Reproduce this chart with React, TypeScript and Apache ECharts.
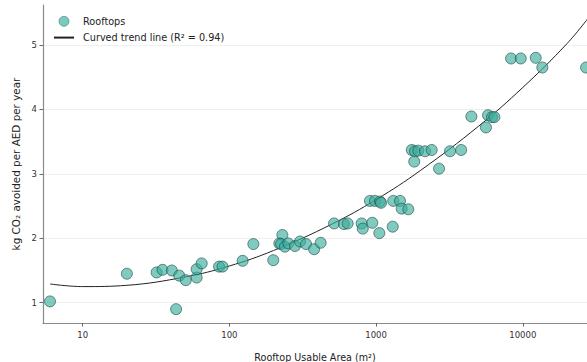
import React, { useEffect, useRef } from "react";
import * as echarts from "echarts";

// Rooftop usable area (m²) and kg CO2 avoided per AED per year
const areaM2 = [
  5.98, 20, 31.9, 35, 40.5, 45.5, 43.3, 50.4, 59.8, 59.8, 64.7, 85, 89.7, 123, 145.6,
  199, 229.6, 219, 225, 239, 252, 280, 303, 333, 378, 419, 517, 604, 640, 797, 811,
  942, 1052, 1298, 908, 982, 1064, 1081, 1309, 1455, 1494, 1657, 1750, 1841, 1940,
  2155, 2392, 1820, 3190, 2686, 3800, 4460, 5608, 5794, 6166, 6400, 8318, 9684,
  12250, 13590, 27000,
];
const kgCo2 = [
  1.02, 1.45, 1.47, 1.51, 1.5, 1.42, 0.9, 1.35, 1.39, 1.52, 1.61, 1.56, 1.56, 1.65, 1.91,
  1.66, 2.05, 1.92, 1.91, 1.87, 1.92, 1.88, 1.95, 1.91, 1.83, 1.93, 2.23, 2.22, 2.23, 2.23, 2.15,
  2.24, 2.08, 2.18, 2.58, 2.58, 2.57, 2.55, 2.58, 2.58, 2.46, 2.45, 3.37, 3.35, 3.36,
  3.35, 3.37, 3.19, 3.35, 3.08, 3.37, 3.89, 3.72, 3.91, 3.88, 3.88, 4.79, 4.79,
  4.8, 4.65, 4.65,
];

// Curved trend line
const trendArea = [6, 10, 20, 50, 100, 200, 500, 1000, 2000, 5000, 10000, 20000, 28000];
const trendKg = [1.29, 1.25, 1.27, 1.4, 1.57, 1.81, 2.22, 2.6, 3.05, 3.74, 4.34, 5.02, 5.42];

const xTicks = [10, 100, 1000, 10000];
const yTicks = [1, 2, 3, 4, 5];

const FONT = "DejaVu Sans";

export default function App() {
  const ref = useRef<HTMLDivElement>(null);
  useEffect(() => {
    if (!ref.current) return;
    const chart = echarts.init(ref.current, null, { renderer: "svg" });
    const scatterData = areaM2.map((a, i) => [a, kgCo2[i]]);
    const trendData = trendArea.map((a, i) => [a, trendKg[i]]);
    chart.setOption({
      animation: false,
      backgroundColor: "#ffffff",
      textStyle: { fontFamily: FONT },
      grid: {
        left: 43,
        right: 0,
        top: 5,
        bottom: 39,
        containLabel: false,
        outerBoundsMode: "none",
      },
      legend: {
        left: 48,
        top: 11,
        orient: "vertical",
        itemWidth: 20,
        itemHeight: 10,
        itemGap: 6,
        textStyle: { fontFamily: FONT, fontSize: 9.7, color: "#222", padding: [0, 0, 0, 4] },
        data: [
          {
            name: "Rooftops",
            itemStyle: { color: "rgba(58,178,162,0.85)", borderColor: "#2b5e57", borderWidth: 0.6 },
          },
          { name: "Curved trend line (R² = 0.94)", itemStyle: { opacity: 0 } },
        ],
      },
      xAxis: {
        type: "log",
        logBase: 10,
        min: 5.36,
        max: 27400,
        name: "Rooftop Usable Area (m²)",
        nameLocation: "middle",
        nameGap: 29,
        nameTextStyle: { fontFamily: FONT, fontSize: 9.6, color: "#222" },
        axisLine: { show: true, lineStyle: { color: "#8a8a8a", width: 1.2 } },
        axisTick: { show: true, length: 3.5, lineStyle: { color: "#666" }, customValues: xTicks },
        axisLabel: {
          fontFamily: FONT,
          fontSize: 8.5,
          color: "#333",
          margin: 7,
          customValues: xTicks,
          formatter: (v: number) => String(Math.round(v)),
        },
        splitLine: { show: false },
        minorTick: { show: false },
      },
      yAxis: {
        type: "value",
        min: 0.685,
        max: 5.62,
        name: "kg CO₂ avoided per AED per year",
        nameLocation: "middle",
        nameGap: 21,
        nameTextStyle: { fontFamily: FONT, fontSize: 10.4, color: "#222" },
        axisLine: { show: true, lineStyle: { color: "#8a8a8a", width: 1.2 } },
        axisTick: { show: true, length: 3.5, lineStyle: { color: "#666" }, customValues: yTicks },
        axisLabel: {
          fontFamily: FONT,
          fontSize: 8.5,
          color: "#333",
          margin: 6,
          customValues: yTicks,
          formatter: (v: number) => String(v),
        },
        splitLine: { show: true, lineStyle: { color: "#efefef", width: 1 } },
      },
      series: [
        {
          name: "Rooftops",
          type: "scatter",
          data: scatterData,
          symbol: "circle",
          symbolSize: 11,
          itemStyle: {
            color: "rgba(58,172,156,0.8)",
            borderColor: "#1f4d47",
            borderWidth: 0.8,
          },
          z: 3,
        },
        {
          name: "Curved trend line (R² = 0.94)",
          type: "line",
          data: trendData,
          smooth: 0.4,
          symbol: "none",
          showSymbol: false,
          lineStyle: { color: "#222", width: 1 },
          itemStyle: { color: "#222" },
          z: 2,
        },
      ],
    });
    return () => chart.dispose();
  }, []);
  return (
    <div
      ref={ref}
      style={{ position: "absolute", left: 0, top: 0, width: 587, height: 362 }}
    />
  );
}
